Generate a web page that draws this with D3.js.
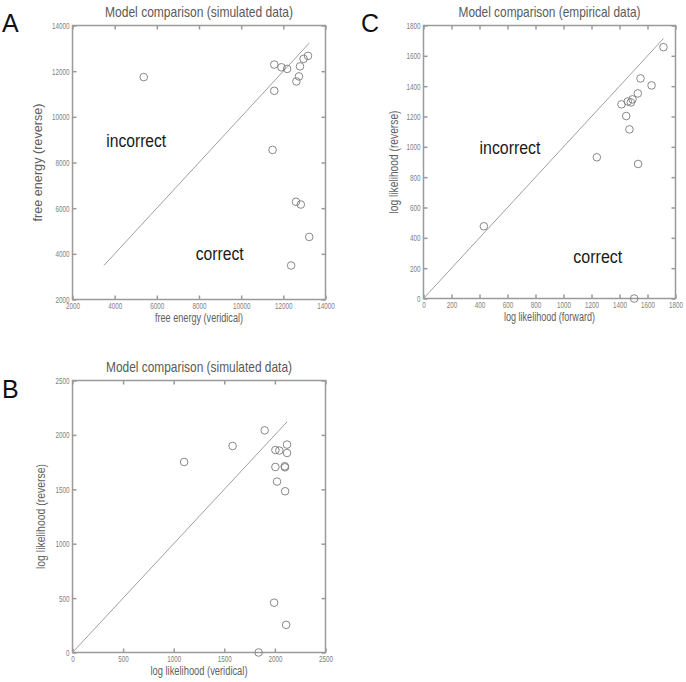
<!DOCTYPE html>
<html>
<head>
<meta charset="utf-8">
<script src="https://cdn.jsdelivr.net/npm/d3@7"></script>
<style>
  body { margin: 0; background: #fff; }
  svg { display: block; }
</style>
</head>
<body>
<svg id="chart" width="686" height="682"></svg>
<script>
// ---- Data ----
// Panel A: free energy (veridical) vs free energy (reverse), simulated data
const aX = [5380, 11570, 11910, 12180, 12960, 13170, 12790, 12740, 12620, 11570, 11490, 12600, 12830, 13230, 12370];
const aY = [11740, 12290, 12170, 12100, 12540, 12670, 12210, 11770, 11550, 11140, 8550, 6280, 6160, 4740, 3490];
const aTicks = [2000, 4000, 6000, 8000, 10000, 12000, 14000];

// Panel B: log likelihood (veridical) vs log likelihood (reverse), simulated data
const bX = [1103, 1582, 1899, 2005, 2044, 2120, 2120, 2005, 2097, 2100, 2021, 2101, 1992, 2111, 1839];
const bY = [1751, 1898, 2042, 1861, 1856, 1911, 1834, 1705, 1712, 1702, 1571, 1482, 458, 254, 0];
const bTicks = [0, 500, 1000, 1500, 2000, 2500];

// Panel C: log likelihood (forward) vs log likelihood (reverse), empirical data
const cX = [1714, 1550, 1629, 1531, 1493, 1459, 1481, 1414, 1448, 1471, 1238, 1533, 431, 1505];
const cY = [1657, 1451, 1405, 1352, 1313, 1299, 1293, 1280, 1203, 1115, 931, 887, 476, 0];
const cTicks = [0, 200, 400, 600, 800, 1000, 1200, 1400, 1600, 1800];

const svg = d3.select("#chart");
const FONT = "Liberation Sans, Arial, sans-serif";
const DIGIT_W = 3.5;

function panel(cfg) {
  const g = svg.append("g");
  const x = d3.scaleLinear().domain(cfg.domain).range([cfg.left, cfg.right]);
  const y = d3.scaleLinear().domain(cfg.domain).range([cfg.bottom, cfg.top]);
  const boxColor = "#9a9a9a";
  const tickColor = "#808080";

  function styleAxis(a, labels) {
    a.select(".domain").remove();
    a.selectAll("line").attr("stroke", boxColor).attr("stroke-width", 1.5);
    if (labels) {
      a.selectAll("text")
        .attr("fill", tickColor).attr("font-size", 9.5).attr("font-family", FONT)
        .attr("textLength", d => String(d).length * DIGIT_W)
        .attr("lengthAdjust", "spacingAndGlyphs");
    }
  }

  // ticks on all four sides, pointing inward (MATLAB style)
  styleAxis(g.append("g").attr("transform", `translate(0,${cfg.bottom})`)
    .call(d3.axisBottom(x).tickValues(cfg.ticks).tickSizeInner(-4).tickSizeOuter(0)
      .tickPadding(3).tickFormat(d3.format("d"))), true);
  styleAxis(g.append("g").attr("transform", `translate(0,${cfg.top})`)
    .call(d3.axisTop(x).tickValues(cfg.ticks).tickSizeInner(-4).tickSizeOuter(0)
      .tickFormat("")), false);
  styleAxis(g.append("g").attr("transform", `translate(${cfg.left},0)`)
    .call(d3.axisLeft(y).tickValues(cfg.ticks).tickSizeInner(-4).tickSizeOuter(0)
      .tickPadding(3).tickFormat(d3.format("d"))), true);
  styleAxis(g.append("g").attr("transform", `translate(${cfg.right},0)`)
    .call(d3.axisRight(y).tickValues(cfg.ticks).tickSizeInner(-4).tickSizeOuter(0)
      .tickFormat("")), false);

  g.append("path")
    .attr("d", `M${cfg.left},${cfg.top}H${cfg.right}V${cfg.bottom}H${cfg.left}Z`)
    .attr("fill", "none").attr("stroke", boxColor).attr("stroke-width", 1.5);

  // identity line from min to max of all values
  const all = cfg.xs.concat(cfg.ys);
  const lo = d3.min(all), hi = d3.max(all);
  g.append("line")
    .attr("x1", x(lo)).attr("y1", y(lo)).attr("x2", x(hi)).attr("y2", y(hi))
    .attr("stroke", "#a0a0a0").attr("stroke-width", 1);

  g.selectAll("circle.pt").data(cfg.xs.map((v, i) => [v, cfg.ys[i]])).enter()
    .append("circle").attr("class", "pt")
    .attr("cx", d => x(d[0])).attr("cy", d => y(d[1])).attr("r", 3.8)
    .attr("fill", "none").attr("stroke", "#7a7a7a").attr("stroke-width", 0.9);

  const cx = (cfg.left + cfg.right) / 2;
  g.append("text").attr("x", cx).attr("y", cfg.top - 8.5)
    .attr("text-anchor", "middle").attr("font-family", FONT)
    .attr("font-size", 15).attr("fill", "#5a5a5a")
    .attr("textLength", cfg.titleW).attr("lengthAdjust", "spacingAndGlyphs")
    .text(cfg.title);
  g.append("text").attr("x", cx).attr("y", cfg.bottom + 22)
    .attr("text-anchor", "middle").attr("font-family", FONT)
    .attr("font-size", 12).attr("fill", "#606060")
    .attr("textLength", cfg.xlabW).attr("lengthAdjust", "spacingAndGlyphs")
    .text(cfg.xlabel);
  g.append("text")
    .attr("transform", `translate(${cfg.left - cfg.ylabOff},${(cfg.top + cfg.bottom) / 2}) rotate(-90)`)
    .attr("text-anchor", "middle").attr("font-family", FONT)
    .attr("font-size", 12).attr("fill", "#606060")
    .attr("textLength", cfg.ylabW).attr("lengthAdjust", "spacingAndGlyphs")
    .text(cfg.ylabel);

  svg.append("text").attr("x", cfg.letterX).attr("y", cfg.letterY)
    .attr("font-family", FONT).attr("font-size", 25)
    .attr("fill", "#111").text(cfg.letter);

  if (cfg.regions) {
    cfg.regions.forEach(r => {
      g.append("text").attr("x", x(r.x)).attr("y", y(r.y))
        .attr("font-family", FONT).attr("font-size", 18).attr("fill", "#1a1a1a")
        .attr("textLength", r.w).attr("lengthAdjust", "spacingAndGlyphs")
        .text(r.text);
    });
  }
}

panel({
  left: 72.5, right: 325.5, top: 25.5, bottom: 299.5,
  domain: [2000, 14000], ticks: aTicks, xs: aX, ys: aY,
  title: "Model comparison (simulated data)", titleW: 188,
  xlabel: "free energy (veridical)", xlabW: 88,
  ylabel: "free energy (reverse)", ylabW: 118, ylabOff: 31,
  letter: "A", letterX: 2, letterY: 32,
  regions: [{ text: "incorrect", x: 3600, y: 8680, w: 60 }, { text: "correct", x: 7840, y: 3750, w: 48 }]
});

panel({
  left: 72.5, right: 325.5, top: 380.5, bottom: 652.5,
  domain: [0, 2500], ticks: bTicks, xs: bX, ys: bY,
  title: "Model comparison (simulated data)", titleW: 186,
  xlabel: "log likelihood (veridical)", xlabW: 97,
  ylabel: "log likelihood (reverse)", ylabW: 105, ylabOff: 28,
  letter: "B", letterX: 2, letterY: 398
});

panel({
  left: 423.5, right: 675.5, top: 25.5, bottom: 298.5,
  domain: [0, 1800], ticks: cTicks, xs: cX, ys: cY,
  title: "Model comparison (empirical data)", titleW: 182,
  xlabel: "log likelihood (forward)", xlabW: 91,
  ylabel: "log likelihood (reverse)", ylabW: 103, ylabOff: 26,
  letter: "C", letterX: 361, letterY: 32,
  regions: [{ text: "incorrect", x: 400, y: 950, w: 61 }, { text: "correct", x: 1070, y: 232, w: 49 }]
});
</script>
</body>
</html>
